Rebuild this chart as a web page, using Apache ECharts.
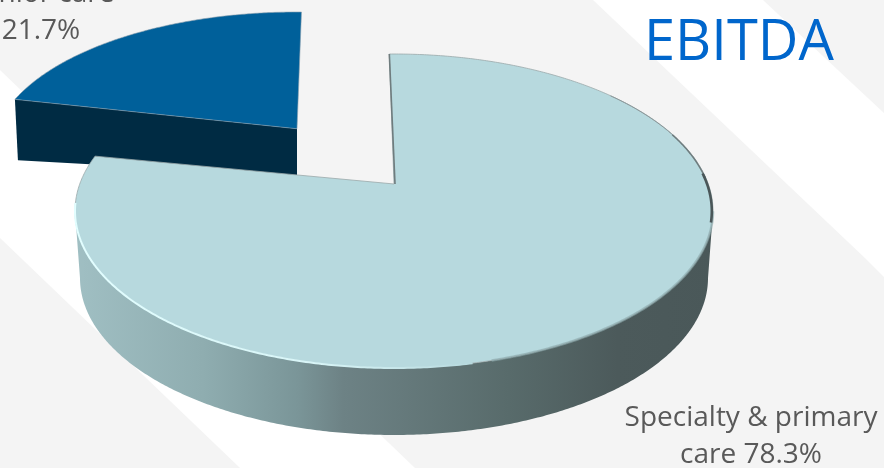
<!DOCTYPE html>
<html>
<head>
<meta charset="utf-8">
<style>html,body{margin:0;padding:0;background:#fff}#c{width:884px;height:468px}</style>
<script src="https://cdn.jsdelivr.net/npm/echarts@6/dist/echarts.min.js"></script>
</head>
<body>
<div id="c"></div>
<script>
const categories = ['Senior care', 'Specialty & primary care'];
const shares = [21.7, 78.3];
const chartTitle = 'EBITDA';
const topColors = ['#00609a', '#b7d9de'];
const cutColors = ['#002b43', '#4a5a5c'];
const FONT = '"Open Sans"';
const TEXT = '#595959';

// 3D look: perspective of each exploded slice
const K = -0.172;
const views = [
  {cx: 297, cy: 153, rx: 305, ry: 141, depth: 47},
  {cx: 394, cy: 211, rx: 319, ry: 157}
];
const baseView = {cx: 394, cy: 278, rx: 314, ry: 157};
const total = shares.reduce((a, b) => a + b, 0);
function project(v, deg) {
  const t = deg * Math.PI / 180, u = Math.sin(t), w = -Math.cos(t), d = 1 + K * w;
  return [v.cx + v.rx * u * Math.sqrt(1 - K * K) / d, v.cy + v.ry * (w + K) / d];
}
function arcPts(v, a, b) {
  const pts = [], n = Math.max(8, Math.ceil(Math.abs(b - a)) * 2);
  for (let i = 0; i <= n; i++) pts.push(project(v, a + (b - a) * i / n));
  return pts;
}
// big slice runs clockwise from the top, the small one closes the circle
const bigSweep = shares[1] / total * 360;
const ranges = [[bigSweep + 1, 361], [-1, bigSweep - 1]];

const wallGrad = new echarts.graphic.LinearGradient(0, 0, 1, 0, [
  {offset: 0, color: '#a0bfc3'},
  {offset: 0.2, color: '#8fadb0'},
  {offset: 0.35, color: '#7a9598'},
  {offset: 0.42, color: '#6d8285'},
  {offset: 0.68, color: '#586b6b'},
  {offset: 0.85, color: '#4c5a5b'},
  {offset: 1, color: '#4a5859'}
]);
const rimGrad = new echarts.graphic.LinearGradient(0, 0, 1, 0, [
  {offset: 0, color: '#e2feff'},
  {offset: 0.6, color: '#d8f5f7'},
  {offset: 1, color: '#b7d9de'}
]);

function renderSlice(params, api) {
  const i = params.dataIndex, v = views[i], [a, b] = ranges[i];
  const cen = [v.cx, v.cy + v.ry * K];
  const children = [];
  const arc = arcPts(v, a, b);
  if (i === 0) {
    const left = arc[0];
    children.push({type: 'polygon', shape: {points: [cen, left, [left[0] + 3, left[1] + 61], [cen[0], cen[1] + v.depth]]},
      style: {fill: cutColors[0]}});
    children.push({type: 'polygon', shape: {points: [cen].concat(arc)},
      style: {fill: topColors[0], stroke: '#8aa0ae', lineWidth: 0.6}});
  } else {
    const wallTop = arcPts(v, 100, 260);
    const wallBot = arcPts(baseView, 260, 100);
    children.push({type: 'polygon', shape: {points: wallTop.concat(wallBot)}, style: {fill: wallGrad}});
    children.push({type: 'polygon', shape: {points: [cen].concat(arc)},
      style: {fill: topColors[1], stroke: '#9aa8aa', lineWidth: 0.8}});
    // soft edge along the front of the lid
    children.push({type: 'polyline', shape: {points: arcPts(v, 100, 165)},
      style: {fill: 'none', stroke: 'rgba(140,170,174,0.6)', lineWidth: 2.5}});
    // pale rim on the lower left
    children.push({type: 'polyline', shape: {points: arcPts(v, 168, 263)},
      style: {fill: 'none', stroke: rimGrad, lineWidth: 2}});
    // shaded edges on the cut and the upper right
    children.push({type: 'polyline', shape: {points: [[cen[0] + 1, cen[1]], project(v, a)]},
      style: {fill: 'none', stroke: '#6f7c7e', lineWidth: 1.6}});
    children.push({type: 'polyline', shape: {points: arcPts({...v, rx: v.rx - 0.4}, 50, 72)},
      style: {fill: 'none', stroke: '#8a9698', lineWidth: 1}});
    children.push({type: 'polyline', shape: {points: arcPts({...v, rx: v.rx - 0.7}, 70, 88)},
      style: {fill: 'none', stroke: '#6f7c7e', lineWidth: 1.5}});
    children.push({type: 'polyline', shape: {points: arcPts({...v, rx: v.rx - 1.2}, 86, 104)},
      style: {fill: 'none', stroke: '#4a5658', lineWidth: 2.6}});
  }
  return {type: 'group', children};
}

const chart = echarts.init(document.getElementById('c'), null, {renderer: 'canvas'});
chart.setOption({
  animation: false,
  backgroundColor: '#f4f4f4',
  title: {text: chartTitle, left: 639, top: 11,
    textStyle: {color: '#0066cc', fontFamily: FONT, fontWeight: 'normal', fontSize: 56}},
  graphic: [
    {type: 'polygon', z: -10, silent: true, shape: {points: [[593, 0], [763, 0], [884, 113], [884, 277], [867, 260]]}, style: {fill: '#fff'}},
    {type: 'polygon', z: -10, silent: true, shape: {points: [[0, 70], [415, 468], [240, 468], [0, 238]]}, style: {fill: '#fff'}},
    {type: 'text', z: 20, silent: true, style: {x: 41, y: 13, text: categories[0] + '\n' + shares[0].toFixed(1) + '%', align: 'center', verticalAlign: 'middle', lineHeight: 37, fontFamily: FONT, fontSize: 28, fill: TEXT}},
    {type: 'text', z: 20, silent: true, style: {x: 751, y: 437, text: 'Specialty & primary\ncare ' + shares[1].toFixed(1) + '%', align: 'center', verticalAlign: 'middle', lineHeight: 37, fontFamily: FONT, fontSize: 28, fill: TEXT}}
  ],
  series: [{
    type: 'custom',
    coordinateSystem: 'none',
    silent: true,
    renderItem: renderSlice,
    data: shares.map((s, i) => ({name: categories[i], value: s}))
  }]
});
</script>
</body>
</html>
